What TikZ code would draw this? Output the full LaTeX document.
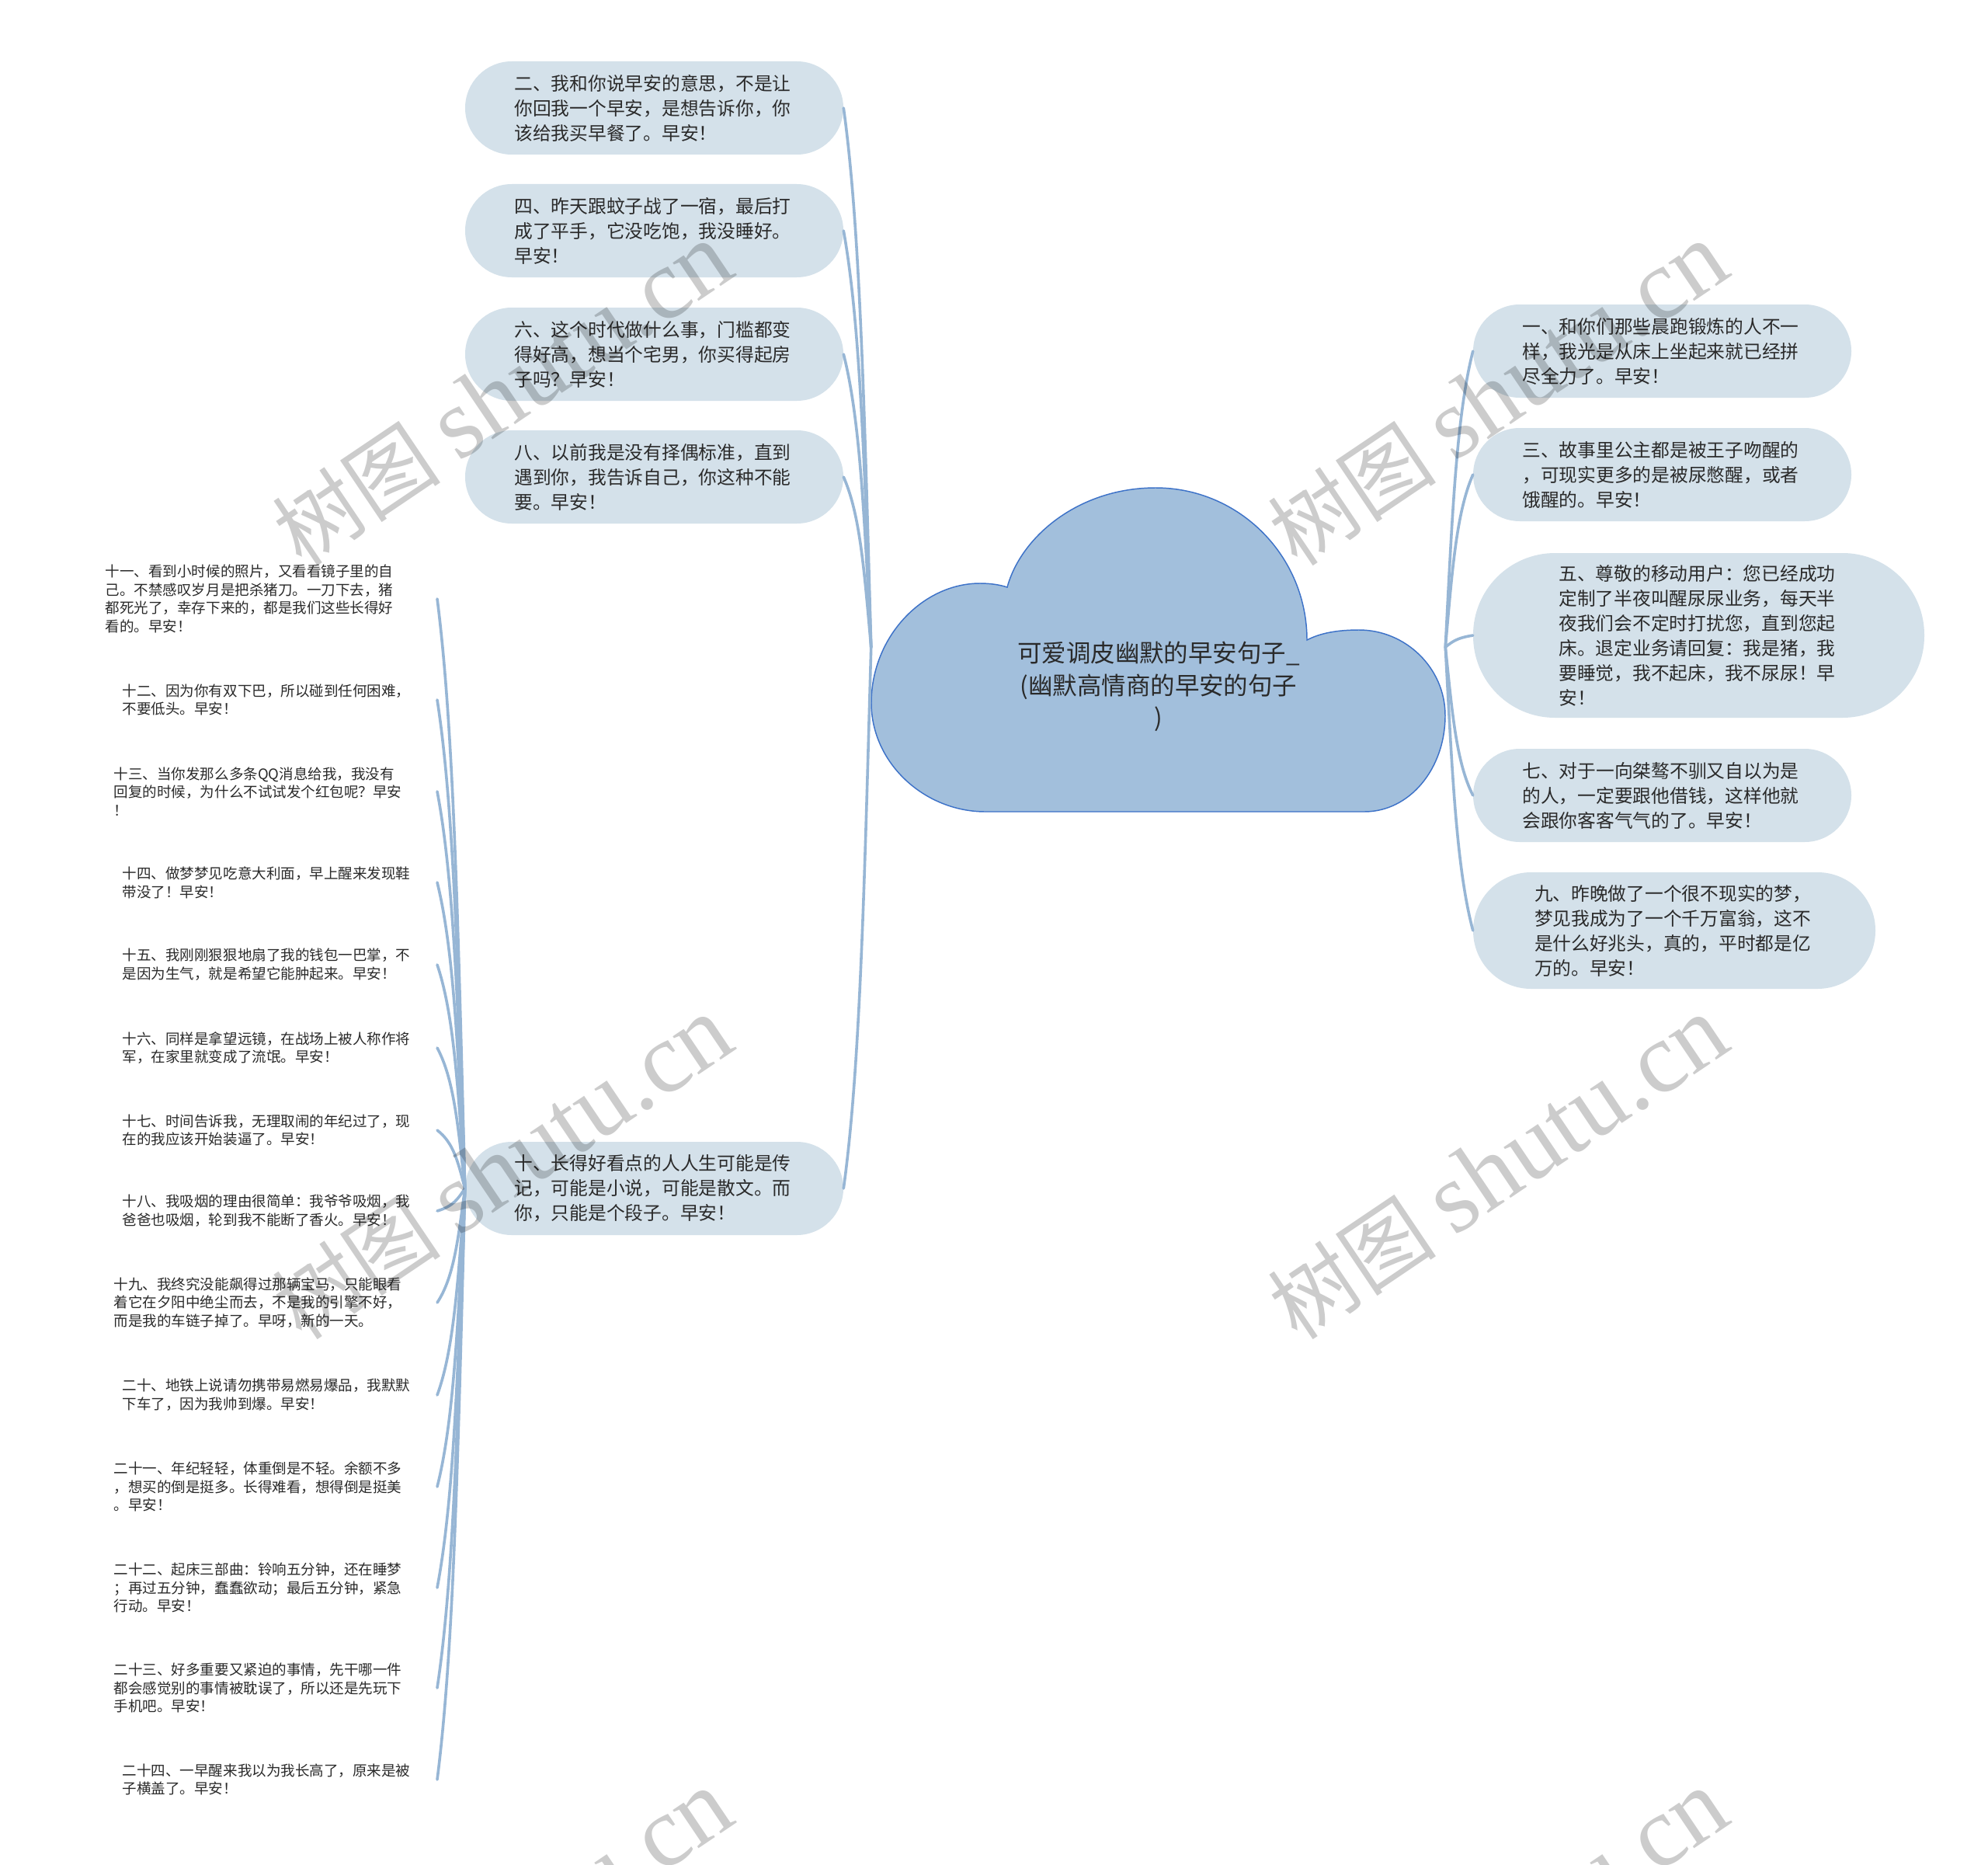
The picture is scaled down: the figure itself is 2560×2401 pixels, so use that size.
\documentclass[tikz,border=0pt]{standalone}
\usepackage{fontspec}
\setmainfont{Noto Sans CJK SC}
\newfontfamily\wmserif{Liberation Serif}
\usetikzlibrary{calc}
\definecolor{boxfill}{HTML}{D4E1EA}
\definecolor{cloudfill}{HTML}{A2BFDC}
\definecolor{cloudline}{HTML}{3D72C8}
\definecolor{conn}{HTML}{97B6D5}
\definecolor{txt}{HTML}{2A2A2A}
\begin{document}
\begin{tikzpicture}[x=0.75pt,y=-0.75pt,
  bubble/.style={draw=none, fill=boxfill, text=txt, inner sep=0pt,
    minimum width=365.25pt, minimum height=90pt, rounded corners=45pt,
    text width=270pt, align=left, font=\fontsize{17.8pt}{24pt}\selectfont},
  leaf/.style={inner sep=0pt, anchor=east, align=left, text=txt,
    font=\fontsize{13.9pt}{17.8pt}\selectfont},
  link/.style={draw=conn, line width=2.7pt, line cap=round},
  fan/.style={to path={let \p1=(\tikztostart), \p2=(\tikztotarget) in
     .. controls ({\x1+0.25*(\x2-\x1)},{\y1+0.45*(\y2-\y1)})
     and ({\x2+0.6*(\x1-\x2)},{\y2+0.22*(\y1-\y2)}) .. (\tikztotarget)}},
  wm/.style={rotate=34, text=black, text opacity=0.2, inner sep=0pt},
]
\useasboundingbox (0,0) rectangle (2560,2401);
\fill[white] (0,0) rectangle (2560,2401);

% cloud
\node[minimum width=554.25pt, minimum height=317pt, inner sep=0pt] (cloud) at (1491.5,833) {};
\path[fill=cloudfill, draw=cloudline, line width=1.1pt]
  (1269,1045) .. controls (1190,1045) and (1122,982) .. (1122,905)
  .. controls (1122,820) and (1188,751) .. (1262,751)
  .. controls (1276,751) and (1288,753) .. (1297,756)
  .. controls (1315,690) and (1390,628) .. (1488,628)
  .. controls (1596,628) and (1683,716) .. (1683,824)
  .. controls (1700,815) and (1722,811) .. (1750,811)
  .. controls (1810,811) and (1861,860) .. (1861,921)
  .. controls (1861,990) and (1815,1045) .. (1757,1045)
  -- cycle;
\node[text=txt, align=center, inner sep=0pt, font=\fontsize{23.6pt}{31.2pt}\selectfont] (title) at (1492,884)
  {可爱调皮幽默的早安句子\_\\(幽默高情商的早安的句子\\)};

% left boxes
\node[bubble] (b2) at (842.5,139) {二、我和你说早安的意思，不是让\\你回我一个早安，是想告诉你，你\\该给我买早餐了。早安！};
\node[bubble] (b4) at (842.5,297) {四、昨天跟蚊子战了一宿，最后打\\成了平手，它没吃饱，我没睡好。\\早安！};
\node[bubble] (b6) at (842.5,456) {六、这个时代做什么事，门槛都变\\得好高，想当个宅男，你买得起房\\子吗？早安！};
\node[bubble] (b8) at (842.5,614) {八、以前我是没有择偶标准，直到\\遇到你，我告诉自己，你这种不能\\要。早安！};
\node[bubble] (b10) at (842.5,1530) {十、长得好看点的人人生可能是传\\记，可能是小说，可能是散文。而\\你，只能是个段子。早安！};

% right boxes
\node[bubble] (b1) at (2140.5,452) {一、和你们那些晨跑锻炼的人不一\\样，我光是从床上坐起来就已经拼\\尽全力了。早安！};
\node[bubble] (b3) at (2140.5,611) {三、故事里公主都是被王子吻醒的\\，可现实更多的是被尿憋醒，或者\\饿醒的。早安！};
\node[bubble, minimum width=435.75pt, minimum height=159pt, rounded corners=79pt] (b5) at (2187.5,818) {五、尊敬的移动用户：您已经成功\\定制了半夜叫醒尿尿业务，每天半\\夜我们会不定时打扰您，直到您起\\床。退定业务请回复：我是猪，我\\要睡觉，我不起床，我不尿尿！早\\安！};
\node[bubble] (b7) at (2140.5,1024) {七、对于一向桀骜不驯又自以为是\\的人，一定要跟他借钱，这样他就\\会跟你客客气气的了。早安！};
\node[bubble, minimum width=388.5pt, minimum height=112.5pt, rounded corners=56pt] (b9) at (2156,1198) {九、昨晚做了一个很不现实的梦，\\梦见我成为了一个千万富翁，这不\\是什么好兆头，真的，平时都是亿\\万的。早安！};

% leaves
\node[leaf, text width=320.25pt] (l11) at (563,771) {十一、看到小时候的照片，又看看镜子里的自\\己。不禁感叹岁月是把杀猪刀。一刀下去，猪\\都死光了，幸存下来的，都是我们这些长得好\\看的。早安！};
\node[leaf, text width=303.75pt] (l12) at (563,901) {十二、因为你有双下巴，所以碰到任何困难，\\不要低头。早安！};
\node[leaf, text width=312pt] (l13) at (563,1019) {十三、当你发那么多条QQ消息给我，我没有\\回复的时候，为什么不试试发个红包呢？早安\\！};
\node[leaf, text width=303.75pt] (l14) at (563,1136) {十四、做梦梦见吃意大利面，早上醒来发现鞋\\带没了！早安！};
\node[leaf, text width=303.75pt] (l15) at (563,1242) {十五、我刚刚狠狠地扇了我的钱包一巴掌，不\\是因为生气，就是希望它能肿起来。早安！};
\node[leaf, text width=303.75pt] (l16) at (563,1349) {十六、同样是拿望远镜，在战场上被人称作将\\军，在家里就变成了流氓。早安！};
\node[leaf, text width=303.75pt] (l17) at (563,1455) {十七、时间告诉我，无理取闹的年纪过了，现\\在的我应该开始装逼了。早安！};
\node[leaf, text width=303.75pt] (l18) at (563,1559) {十八、我吸烟的理由很简单：我爷爷吸烟，我\\爸爸也吸烟，轮到我不能断了香火。早安！};
\node[leaf, text width=312pt] (l19) at (563,1677) {十九、我终究没能飙得过那辆宝马，只能眼看\\着它在夕阳中绝尘而去，不是我的引擎不好，\\而是我的车链子掉了。早呀，新的一天。};
\node[leaf, text width=303.75pt] (l20) at (563,1796) {二十、地铁上说请勿携带易燃易爆品，我默默\\下车了，因为我帅到爆。早安！};
\node[leaf, text width=312pt] (l21) at (563,1914) {二十一、年纪轻轻，体重倒是不轻。余额不多\\，想买的倒是挺多。长得难看，想得倒是挺美\\。早安！};
\node[leaf, text width=312pt] (l22) at (563,2044) {二十二、起床三部曲：铃响五分钟，还在睡梦\\；再过五分钟，蠢蠢欲动；最后五分钟，紧急\\行动。早安！};
\node[leaf, text width=312pt] (l23) at (563,2173) {二十三、好多重要又紧迫的事情，先干哪一件\\都会感觉别的事情被耽误了，所以还是先玩下\\手机吧。早安！};
\node[leaf, text width=303.75pt] (l24) at (563,2291) {二十四、一早醒来我以为我长高了，原来是被\\子横盖了。早安！};

% connectors
\foreach \b in {b2,b4,b6,b8,b10} \draw[link] (cloud.west) to[fan] (\b.east);
\foreach \b in {b1,b3,b5,b7,b9} \draw[link] (cloud.east) to[fan] (\b.west);
\foreach \l in {l11,l12,l13,l14,l15,l16,l17,l18,l19,l20,l21,l22,l23,l24}
  \draw[link] (b10.west) to[fan] (\l.east);

% watermarks
\foreach \i/\px/\py in {1/647/508, 2/1929/508, 3/647/1504, 4/1929/1504, 5/647/2500, 6/1929/2500}
  \node[wm] (wm\i) at (\px,\py) {\fontsize{82pt}{82pt}\selectfont 树图 {\wmserif\fontsize{97pt}{97pt}\selectfont shutu.cn}};
\end{tikzpicture}
\end{document}
